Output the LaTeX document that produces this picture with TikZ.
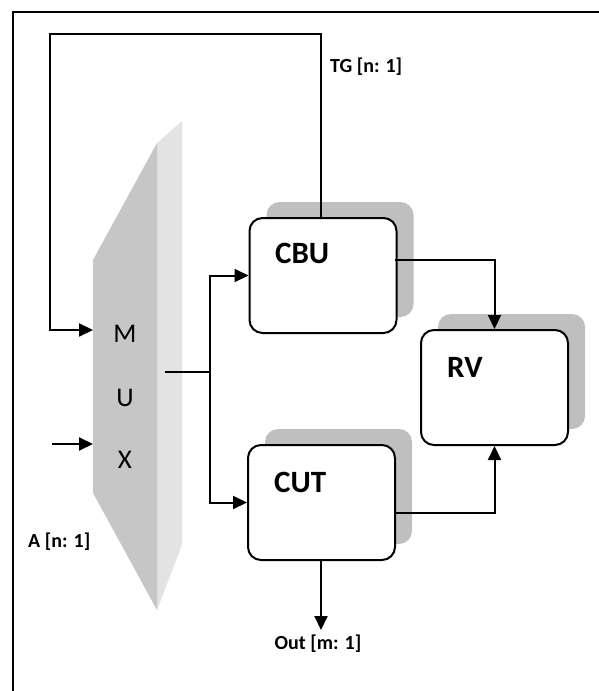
\documentclass[tikz,border=0pt]{standalone}
\usepackage{fontspec}
\setmainfont{Carlito}
\usetikzlibrary{arrows.meta,shadows}
\definecolor{muxdark}{HTML}{C6C6C6}
\definecolor{muxlight}{HTML}{E3E3E3}
\definecolor{shadowgray}{HTML}{BFBFBF}
\tikzset{
  wire/.style={line width=2pt,black},
  arr/.style={wire,-{Triangle[length=14pt,width=13pt]}},
  blockbox/.style={draw=black,line width=2pt,fill=white,rounded corners=13pt,
    minimum width=147pt,minimum height=115pt,inner sep=0pt,
    drop shadow={shadow xshift=17pt,shadow yshift=16pt,fill=shadowgray,opacity=1,rounded corners=13pt}},
  bigtxt/.style={font=\fontsize{31}{34}\selectfont\bfseries,anchor=west,inner sep=0pt},
  smalltxt/.style={font=\fontsize{20}{22}\selectfont\bfseries,inner sep=0pt},
  muxtxt/.style={font=\fontsize{27}{29}\selectfont,inner sep=0pt}
}
\begin{document}
\begin{tikzpicture}[x=1pt,y=-1pt]
\useasboundingbox (0,0) rectangle (599,691);
% frame
\draw[line width=2.2pt] (13,691) -- (13,12) -- (599,12);
% MUX
\fill[muxlight] (157,143) -- (182,121) -- (182,545) -- (157,610) -- cycle;
\fill[muxdark] (93,260) -- (157,143) -- (157,610) -- (93,493) -- cycle;
\node[muxtxt] (m) at (125,334) {M};
\node[muxtxt] (u) at (125,398) {U};
\node[muxtxt] (x) at (125,460) {X};
\coordinate (muxM) at (93,330);
\coordinate (muxX) at (93,444);
\coordinate (muxOut) at (165,372);
\coordinate (split) at (210,372);
% blocks
\node[blockbox] (cbu) at (323,275.5) {};
\node[blockbox] (rv) at (494.5,387.5) {};
\node[blockbox] (cut) at (321.5,502.5) {};
\node[bigtxt] (cbut) at (275,253) {CBU};
\node[bigtxt] (rvt) at (447,367) {RV};
\node[bigtxt] (cutt) at (274,482) {CUT};
% labels
\node[smalltxt,anchor=west] (tg) at (330,67) {TG [n: 1]};
\node[smalltxt,anchor=west] (a) at (28,542) {A [n: 1]};
\node[smalltxt] (out) at (318,644) {Out [m: 1]};
% feedback
\coordinate (fb1) at (321,34);
\coordinate (fb2) at (50,34);
\coordinate (fb3) at (50,330);
\draw[arr] (cbu.north -| fb1) -- (fb1) -- (fb2) -- (fb3) -- (muxM);
\coordinate (xin) at (52,444);
\draw[arr] (xin) -- (muxX);
% mux output
\draw[wire] (muxOut) -- (split);
\draw[arr] (split) |- (cbu.west);
\draw[arr] (split) |- (cut.west);
% to RV
\coordinate (cbuo) at (395,260);
\coordinate (cuto) at (395,513);
\draw[arr] (cbuo) -| (rv.north);
\draw[arr] (cuto) -| (rv.south);
% out
\coordinate (outtip) at (321,630);
\draw[arr] (cut.south -| outtip) -- (outtip);
\end{tikzpicture}
\end{document}
